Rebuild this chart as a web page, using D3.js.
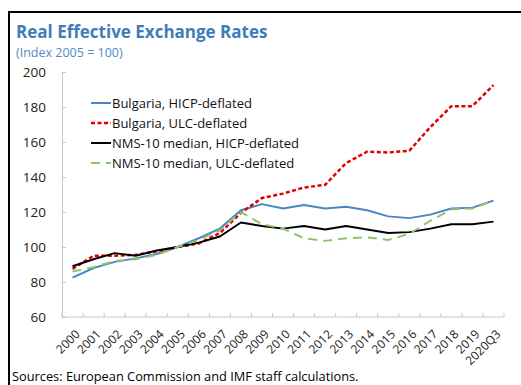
<!DOCTYPE html>
<html>
<head>
<meta charset="utf-8">
<script src="https://cdn.jsdelivr.net/npm/d3@7"></script>
<style>
  html, body { margin: 0; padding: 0; background: #fff; }
  svg { display: block; font-family: "Open Sans", "Noto Sans", sans-serif; }
</style>
</head>
<body>
<svg id="chart" width="521" height="385"></svg>
<script>
// Categories (x axis)
const years = ["2000","2001","2002","2003","2004","2005","2006","2007","2008","2009",
  "2010","2011","2012","2013","2014","2015","2016","2017","2018","2019","2020Q3"];

// Series (index 2005 = 100)
const bgHicp = [82.5, 88, 91.5, 93.5, 96, 100, 105, 110.5, 121, 124.5, 122, 124, 122, 123, 121, 117.5, 116.5, 118.5, 122, 122.5, 126.5];
const bgUlc = [87.5, 95, 95, 95.5, 97.5, 100, 102, 108, 119.5, 128, 130.5, 134, 135.5, 148, 154.5, 154, 155, 168.5, 180.5, 180.5, 192.5];
const nmsHicp = [89, 93, 96.5, 95, 98, 100, 102.5, 106, 114, 112, 110.5, 112, 110, 112, 110, 108, 108.5, 110.5, 113, 113, 114.5];
const nmsUlc = [86, 88.5, 92, 93, 95.5, 100, 104, 109.5, 120, 113, 110.5, 105, 103.5, 105, 105.5, 104, 107.5, 115, 121.5, 122, 126.5];

const yTicks = [60, 80, 100, 120, 140, 160, 180, 200];

const seriesNames = ["Bulgaria, HICP-deflated", "Bulgaria, ULC-deflated",
  "NMS-10 median, HICP-deflated", "NMS-10 median, ULC-deflated"];

const series = [
  { name: seriesNames[0], values: bgHicp, color: "#4a86c2", width: 2, dash: null },
  { name: seriesNames[1], values: bgUlc, color: "#e00000", width: 2.5, dash: "4,2.5" },
  { name: seriesNames[2], values: nmsHicp, color: "#000000", width: 2, dash: null },
  { name: seriesNames[3], values: nmsUlc, color: "#8fc46f", width: 2, dash: "9,6" }
];

const svg = d3.select("#chart");

// Outer frame (top and left edges)
svg.append("path")
  .attr("d", "M9,385 V12 H521")
  .attr("fill", "none").attr("stroke", "#000").attr("stroke-width", 2);

// Title and subtitle
svg.append("text").attr("x", 16).attr("y", 38)
  .attr("font-size", 17).attr("font-weight", 700).attr("fill", "#3f7cb8")
  .text("Real Effective Exchange Rates");
svg.append("text").attr("x", 16).attr("y", 57)
  .attr("font-size", 12.5).attr("fill", "#4f8ac6")
  .text("(Index 2005 = 100)");

const plotLeft = 62, plotRight = 504, plotTop = 72, plotBottom = 317;

const x = d3.scaleBand().domain(years).range([plotLeft, plotRight]);
const y = d3.scaleLinear().domain([60, 200]).range([plotBottom, plotTop]);

const axisColor = "#c8c8c8";

// Y axis
const yAxis = svg.append("g").attr("transform", `translate(${plotLeft},0)`)
  .call(d3.axisLeft(y).tickValues(yTicks).tickSizeInner(-4).tickSizeOuter(0).tickPadding(16));
yAxis.select(".domain").attr("stroke", axisColor);
yAxis.selectAll(".tick line").attr("stroke", axisColor);
yAxis.selectAll(".tick text").attr("font-size", 13.5).attr("fill", "#222")
  .attr("font-family", "Open Sans, sans-serif");

// X axis: ticks at band boundaries
const xAxisG = svg.append("g").attr("transform", `translate(0,${plotBottom})`);
xAxisG.append("line").attr("x1", plotLeft).attr("x2", plotRight)
  .attr("stroke", axisColor);
const bounds = years.map(d => x(d)).concat([plotRight]);
xAxisG.selectAll("line.tk").data(bounds).enter().append("line")
  .attr("class", "tk").attr("x1", d => d).attr("x2", d => d)
  .attr("y1", 0).attr("y2", -4).attr("stroke", axisColor);
xAxisG.selectAll("text").data(years).enter().append("text")
  .attr("transform", d => `translate(${x(d) + x.bandwidth() / 2 + 5},${15}) rotate(-45)`)
  .attr("text-anchor", "end").attr("dy", "0.35em")
  .attr("font-size", 12).attr("fill", "#222")
  .text(d => d);

// Lines
const line = d3.line()
  .x((d, i) => x(years[i]) + x.bandwidth() / 2)
  .y(d => y(d));

svg.append("g").selectAll("path").data(series).enter().append("path")
  .attr("d", d => line(d.values))
  .attr("fill", "none")
  .attr("stroke", d => d.color)
  .attr("stroke-width", d => d.width)
  .attr("stroke-dasharray", d => d.dash)
  .attr("stroke-linejoin", "round");

// Legend
const legend = svg.append("g");
series.forEach((s, i) => {
  const ly = 103 + i * 20;
  legend.append("line").attr("x1", 91).attr("x2", 111).attr("y1", ly).attr("y2", ly)
    .attr("stroke", s.color).attr("stroke-width", s.width)
    .attr("stroke-dasharray", s.dash);
  legend.append("text").attr("x", 112).attr("y", ly).attr("dy", "0.35em")
    .attr("font-size", 13).attr("fill", "#111").text(s.name);
});

// Source note
svg.append("text").attr("x", 12).attr("y", 381)
  .attr("font-size", 12.8).attr("fill", "#000")
  .text("Sources: European Commission and IMF staff calculations.");
</script>
</body>
</html>
